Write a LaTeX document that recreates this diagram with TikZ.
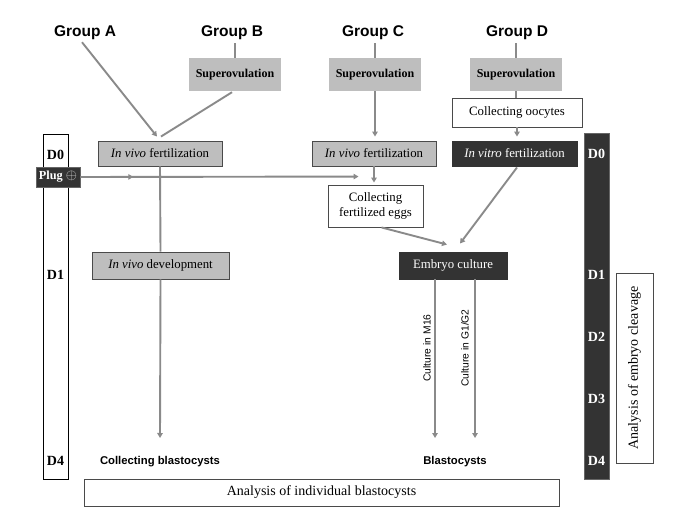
\documentclass[tikz,border=0pt]{standalone}
\usepackage{fontspec}
\setmainfont{Liberation Serif}
\setsansfont{Liberation Sans}
\usetikzlibrary{arrows.meta,decorations.markings}
\definecolor{lg}{HTML}{BEBEBE}
\definecolor{dk}{HTML}{333333}
\definecolor{ln}{HTML}{8A8A8A}
\definecolor{bd}{HTML}{4A4A4A}
\begin{document}
\begin{tikzpicture}[x=1pt,y=-1pt,
  grp/.style={inner sep=0pt, font=\sffamily\bfseries\fontsize{15.5}{17}\selectfont},
  sup/.style={fill=lg, minimum width=92pt, minimum height=33pt, inner sep=0pt,
    font=\bfseries\fontsize{12}{14}\selectfont},
  gbox/.style={fill=lg, draw=bd, line width=0.9pt, inner sep=0pt,
    font=\fontsize{12.8}{14.5}\selectfont},
  dbox/.style={fill=dk, draw=black!80, line width=0.9pt, inner sep=0pt, text=white,
    font=\fontsize{12.8}{14.5}\selectfont},
  wbox/.style={fill=white, draw=bd, line width=0.9pt, inner sep=0pt, align=center,
    font=\fontsize{12.8}{14.5}\selectfont},
  dlab/.style={inner sep=0pt, font=\bfseries\fontsize{14}{16}\selectfont},
  slab/.style={inner sep=0pt, font=\sffamily\bfseries\fontsize{11.3}{13}\selectfont},
  clab/.style={inner sep=0pt, rotate=90, font=\sffamily\fontsize{10.3}{12}\selectfont},
  conn/.style={draw=ln, line width=1.9pt},
  arr/.style={conn, -{Triangle[width=5.5pt,length=5pt]}}
]
\useasboundingbox (0,0) rectangle (685,529);
\fill[white] (0,0) rectangle (685,529);

% group labels
\node[grp] (gA) at (85,33) {Group A};
\node[grp] (gB) at (232,33) {Group B};
\node[grp] (gC) at (373,33) {Group C};
\node[grp] (gD) at (517,33) {Group D};

% superovulation
\node[sup] (supB) at (235,74.5) {Superovulation};
\node[sup] (supC) at (375,74.5) {Superovulation};
\node[sup] (supD) at (516,74.5) {Superovulation};
\node[wbox, minimum width=130pt, minimum height=29pt] (ooc) at (517,112.5) {Collecting oocytes};

% left day column
\node[draw=black, line width=0.9pt, fill=white, minimum width=25pt, minimum height=345pt, inner sep=0pt] (colL) at (55.5,306.5) {};
\node[dlab] (L0) at (55.5,155) {D0};
\node[dlab] (L1) at (55.5,275) {D1};
\node[dlab] (L4) at (55.5,461) {D4};

% right day column
\node[fill=dk, draw=black!60, line width=0.9pt, minimum width=25pt, minimum height=346pt, inner sep=0pt] (colR) at (596.5,306) {};
\node[dlab, text=white] (R0) at (596.5,154) {D0};
\node[dlab, text=white] (R1) at (596.5,275) {D1};
\node[dlab, text=white] (R2) at (596.5,337) {D2};
\node[dlab, text=white] (R3) at (596.5,399) {D3};
\node[dlab, text=white] (R4) at (596.5,461) {D4};

% fertilization row
\node[gbox, minimum width=124pt, minimum height=25pt] (fertA) at (160,153.5) {\textit{In vivo} fertilization};
\node[gbox, minimum width=124pt, minimum height=25pt] (fertC) at (374,153.5) {\textit{In vivo} fertilization};
\node[dbox, minimum width=125pt, minimum height=25pt] (vitro) at (514.5,153.5) {\textit{In vitro} fertilization};

% plug
\node[fill=dk, draw=black!60, line width=0.9pt, minimum width=44pt, minimum height=20pt, inner sep=0pt,
  text=white, font=\bfseries\fontsize{12.3}{14}\selectfont] (plug) at (58,177) {Plug {\fontsize{15}{15}\selectfont\textcolor{white!85!black}{$\oplus$}}};

% eggs, development, culture
\node[wbox, minimum width=95pt, minimum height=42pt, align=center] (eggs) at (375.5,206) {Collecting\\fertilized eggs};
\node[gbox, minimum width=137pt, minimum height=27pt] (devA) at (160.5,265.5) {\textit{In vivo} development};
\node[dbox, minimum width=108pt, minimum height=27pt] (emb) at (453,265.5) {Embryo culture};

% bottom labels
\node[slab] (cb) at (160,462) {Collecting blastocysts};
\node[slab] (bl) at (455,462) {Blastocysts};
\node[clab] (m16) at (427,348) {Culture in M16};
\node[clab] (g12) at (465,348) {Culture in G1/G2};

% analysis boxes
\node[draw=bd, line width=0.9pt, fill=white, minimum width=475pt, minimum height=27pt, inner sep=0pt,
  font=\fontsize{14}{16}\selectfont] (anaI) at (321.5,492.5) {Analysis of individual blastocysts};
\node[draw=bd, line width=0.9pt, fill=white, minimum width=37pt, minimum height=190pt, inner sep=0pt] (anaC) at (634.5,368) {};
\node[inner sep=0pt, rotate=90, font=\fontsize{14}{16}\selectfont] (anaCt) at (anaC.center) {Analysis of embryo cleavage};

% connectors
\draw[arr] ([shift={(-3,2)}]gA.south) -- ([shift={(-3,-4)}]fertA.north);
\draw[conn] ([shift={(-3,1)}]supB.south) -- ([shift={(1,-4)}]fertA.north);
\draw[conn] (supB.north) -- +(0,-15);
\draw[conn] (supC.north) -- +(0,-15);
\draw[conn] (supD.north) -- +(0,-15);
\draw[arr] (supC.south) -- ([shift={(1,-4)}]fertC.north);
\draw[conn] (supD.south) -- (supD.south |- ooc.north);
\draw[arr] (ooc.south) -- ([shift={(2.5,-4)}]vitro.north);
\draw[conn] (fertA.south) -- (devA.north);
\draw[arr] (devA.south) -- ([shift={(0,-24)}]cb.center);
\draw[arr, postaction={decorate}, decoration={markings,
   mark=at position 0.19 with {\arrow{Triangle[width=5.5pt,length=5pt]}}}]
   (plug.east) -- ([shift={(-17,-8)}]eggs.north);
\draw[arr] (fertC.south) -- ([shift={(0,-2)}]fertC.south |- eggs.north);
\draw[arr] ([shift={(6,0)}]eggs.south) -- ([shift={(-6,-7)}]emb.north);
\draw[arr] ([shift={(2.5,1)}]vitro.south) -- ([shift={(7,-8)}]emb.north);
\draw[arr] ([shift={(-18,0)}]emb.south) -- ([shift={(-20,-24)}]bl.center);
\draw[arr] ([shift={(22,0)}]emb.south) -- ([shift={(20,-24)}]bl.center);
\end{tikzpicture}
\end{document}
